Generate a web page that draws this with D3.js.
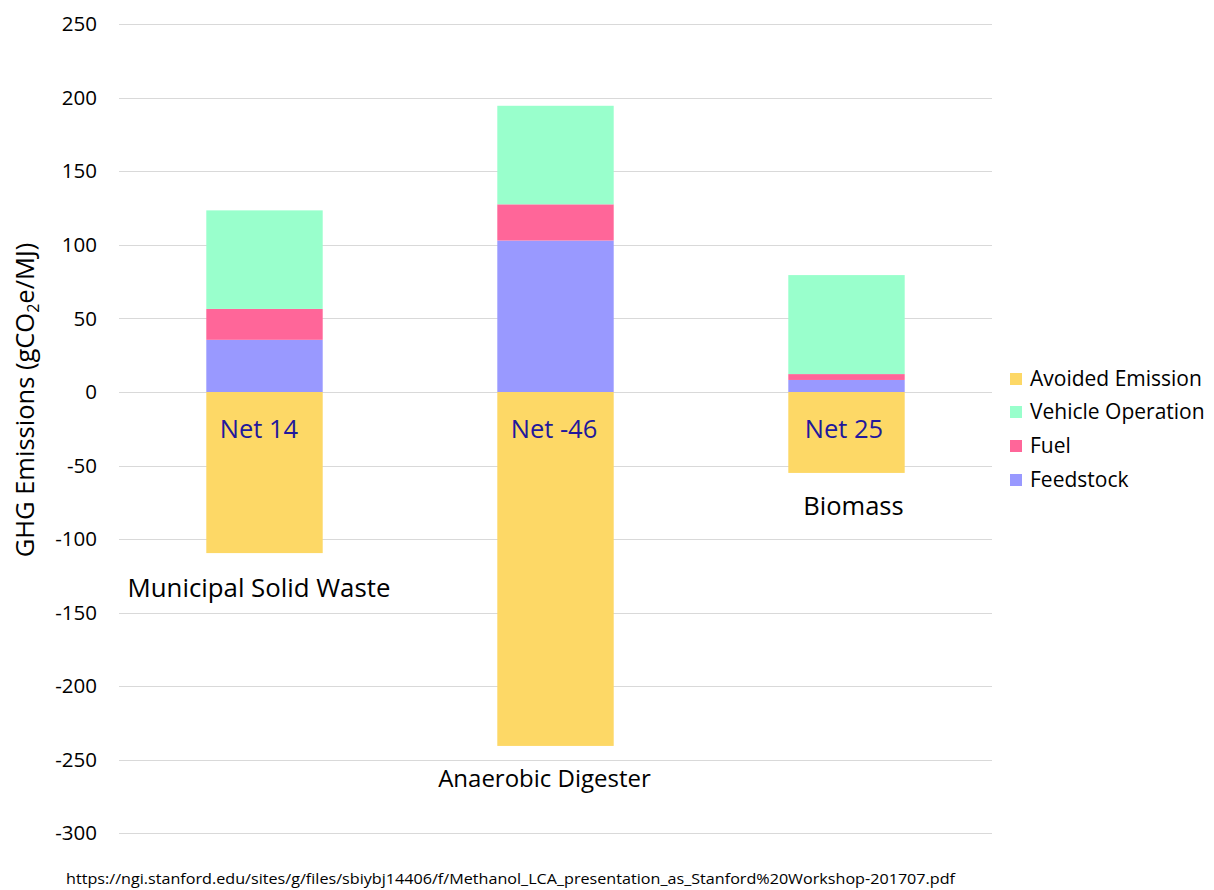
<!DOCTYPE html>
<html><head><meta charset="utf-8">
<script src="https://cdn.jsdelivr.net/npm/d3@7"></script>
<style>body{margin:0;background:#fff;} text{font-family:"Open Sans",Lato,sans-serif;}</style>
</head><body>
<svg id="chart" width="1214" height="890"></svg>
<script>
const categories = ["Municipal Solid Waste", "Anaerobic Digester", "Biomass"];
const feedstock = [35.5, 103, 8.2];
const fuel = [21, 24.6, 4];
const vehicleOperation = [67, 67, 67.3];
const avoidedEmission = [-109.5, -240.6, -55];
const netLabels = ["Net 14", "Net -46", "Net 25"];
const yTicks = [250, 200, 150, 100, 50, 0, -50, -100, -150, -200, -250, -300];
const seriesNames = ["Avoided Emission", "Vehicle Operation", "Fuel", "Feedstock"];
const colors = {"Avoided Emission":"#fdd866","Vehicle Operation":"#99ffcc","Fuel":"#ff6699","Feedstock":"#9999ff"};

const svg = d3.select("#chart");
const pLeft = 119, pRight = 992, pTop = 24.3, pBottom = 833.3;
const y = d3.scaleLinear().domain([-300, 250]).range([pBottom, pTop]);
const x = d3.scaleBand().domain(categories).range([pLeft, pRight]).paddingInner(0.6).paddingOuter(0.3);

// gridlines
svg.append("g").selectAll("line").data(yTicks).join("line")
  .attr("x1", pLeft).attr("x2", pRight)
  .attr("y1", d => Math.round(y(d)) + 0.5).attr("y2", d => Math.round(y(d)) + 0.5)
  .attr("stroke", "#d9d9d9").attr("stroke-width", 1);

// y axis labels
const yAxis = d3.axisLeft(y).tickValues(yTicks).tickSize(0).tickPadding(0).tickFormat(d => String(d));
const ga = svg.append("g").attr("transform", `translate(97,0)`).call(yAxis);
ga.select(".domain").remove();
ga.selectAll("text").attr("font-size", 20.5).attr("fill", "#000").attr("font-family", "'Open Sans', sans-serif");

// stacked segments
const rows = categories.map((c, i) => ({cat: c, parts: [
  {name: "Feedstock", y0: 0, y1: feedstock[i]},
  {name: "Fuel", y0: feedstock[i], y1: feedstock[i] + fuel[i]},
  {name: "Vehicle Operation", y0: feedstock[i] + fuel[i], y1: feedstock[i] + fuel[i] + vehicleOperation[i]},
  {name: "Avoided Emission", y0: avoidedEmission[i], y1: 0}
]}));
const gb = svg.append("g");
rows.forEach(r => {
  gb.append("g").selectAll("rect").data(r.parts).join("rect")
    .attr("x", x(r.cat)).attr("width", x.bandwidth())
    .attr("y", d => y(d.y1)).attr("height", d => y(d.y0) - y(d.y1))
    .attr("fill", d => colors[d.name]);
});

// net labels
const netDx = [-5.5, -1.5, -2.5];
svg.append("g").selectAll("text").data(categories).join("text")
  .attr("x", (d, i) => x(d) + x.bandwidth()/2 + netDx[i]).attr("y", y(0) + 46)
  .attr("text-anchor", "middle").attr("font-size", 25.5).attr("fill", "#22189c")
  .text((d, i) => netLabels[i]);

// category labels
const catLabelPos = [{dx: -5.5, v: -139.4, fs: 25.8}, {dx: -11, v: -268.5, fs: 24}, {dx: 7, v: -83.6, fs: 25.5}];
svg.append("g").selectAll("text").data(categories).join("text")
  .attr("x", (d, i) => x(d) + x.bandwidth()/2 + catLabelPos[i].dx)
  .attr("y", (d, i) => y(catLabelPos[i].v))
  .attr("text-anchor", "middle").attr("font-size", (d, i) => catLabelPos[i].fs).attr("fill", "#000")
  .text(d => d);

// y axis title
const t = svg.append("text").attr("transform", "translate(34,400) rotate(-90)")
  .attr("text-anchor", "middle").attr("font-size", 25.5).attr("fill", "#000");
t.append("tspan").text("GHG Emissions (gCO");
t.append("tspan").attr("font-size", 16).attr("dy", 5).text("2");
t.append("tspan").attr("dy", -5).text("e/MJ)");

// legend
const lg = svg.append("g").attr("transform", "translate(1010,0)");
const ly = [379, 412, 446, 480];
seriesNames.forEach((s, i) => {
  lg.append("rect").attr("x", 0).attr("y", ly[i] - 6).attr("width", 12).attr("height", 12).attr("fill", colors[s]);
  lg.append("text").attr("x", 20).attr("y", ly[i] + 7).attr("font-size", 21).attr("fill", "#000").text(s);
});

// source
svg.append("text").attr("x", 66).attr("y", 884).attr("font-size", 15).attr("fill", "#000")
  .attr("textLength", 889).attr("lengthAdjust", "spacingAndGlyphs")
  .text("https://ngi.stanford.edu/sites/g/files/sbiybj14406/f/Methanol_LCA_presentation_as_Stanford%20Workshop-201707.pdf");
</script>
</body></html>
